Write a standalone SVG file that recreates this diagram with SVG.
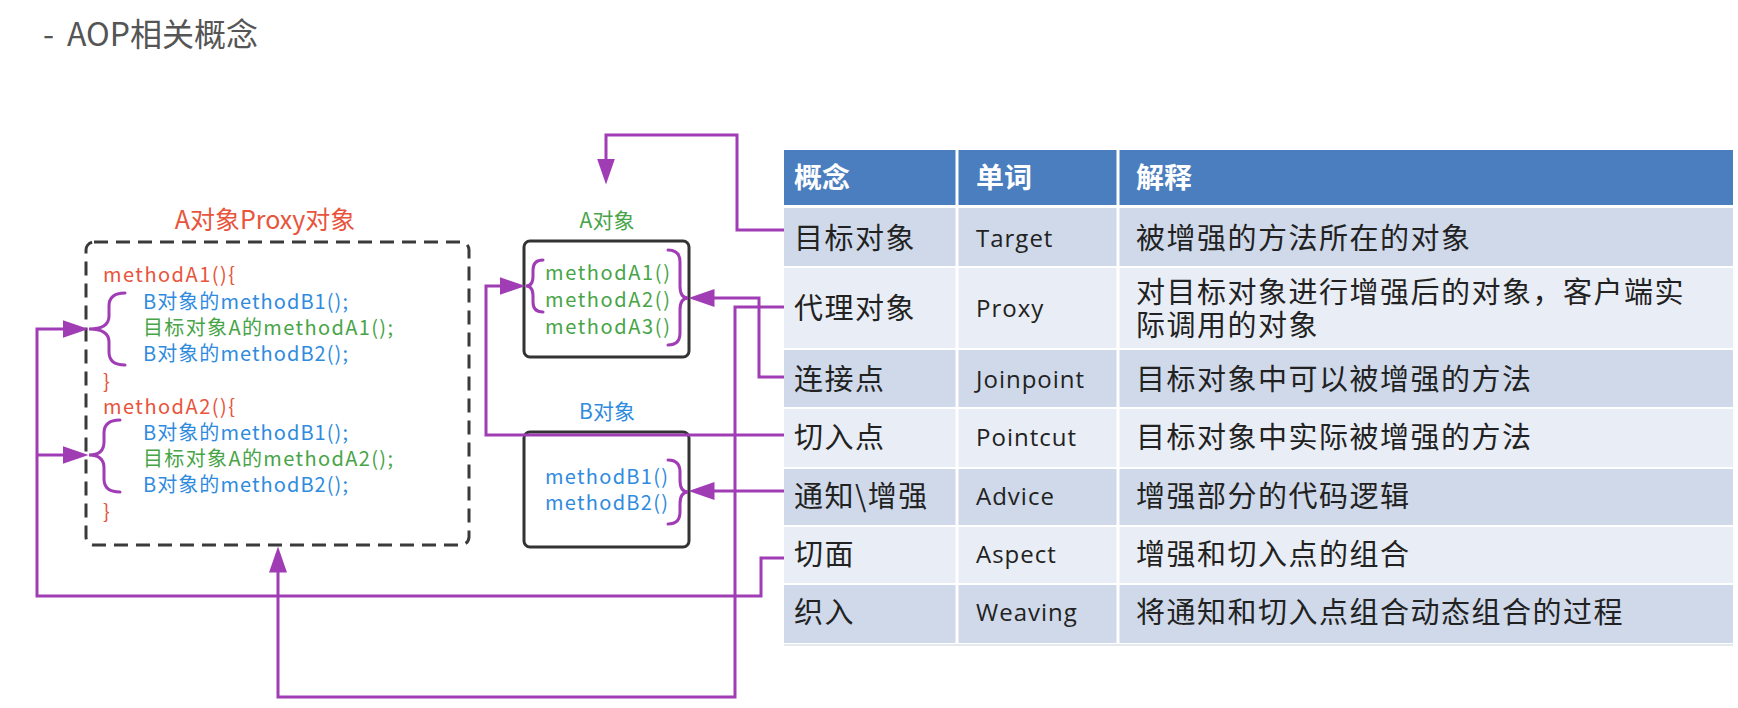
<svg xmlns="http://www.w3.org/2000/svg" width="1738" height="708" viewBox="0 0 1738 708">
<style>
text{font-family:"Noto Sans CJK SC","Noto Sans",sans-serif;}
.title{font-size:32px;fill:#555;}
.code{font-size:20px;}
.red{fill:#E8543C;}
.blue{fill:#2F8BDE;}
.green{fill:#47A447;}
.box{fill:none;stroke:#333;stroke-width:3;}
.dash{fill:none;stroke:#3a3a3a;stroke-width:3;stroke-dasharray:14 8;}
.brace{fill:none;stroke:#A03DB5;stroke-width:3;stroke-linecap:round;}
.conn{fill:none;stroke:#A03DB5;stroke-width:3;}
.hdr{fill:#4A7EBE;}
.dark{fill:#CFD9E9;}
.light{fill:#E9EDF5;}
.sep{stroke:#fff;stroke-width:3;}
.th{font-size:28px;font-weight:bold;fill:#fff;}
.td{font-size:29px;fill:#222;letter-spacing:1.5px;}
.tw{font-family:"Open Sans","Noto Sans",sans-serif;font-size:24px;fill:#222;letter-spacing:1px;}
</style>
<defs>
<marker id="arr" markerUnits="userSpaceOnUse" markerWidth="27" markerHeight="18" refX="0.5" refY="9" orient="auto">
<path d="M0,0 L26,9 L0,18 z" fill="#A03DB5"/>
</marker>
</defs>
<rect width="1738" height="708" fill="#fff"/>

<text class="title" x="43" y="46">-<tspan x="67">AOP相关概念</tspan></text>

<g id="proxy-object">
<text x="265" y="229" font-size="25" text-anchor="middle" class="red">A对象Proxy对象</text>
<rect class="dash" x="86" y="242" width="383" height="303" rx="8"/>
<text class="code red" x="103" y="282" textLength="132" lengthAdjust="spacing">methodA1(){</text>
<text class="code blue" x="143" y="309" textLength="205" lengthAdjust="spacing">B对象的methodB1();</text>
<text class="code green" x="143" y="335" textLength="250" lengthAdjust="spacing">目标对象A的methodA1();</text>
<text class="code blue" x="143" y="361" textLength="205" lengthAdjust="spacing">B对象的methodB2();</text>
<text class="code red" x="103" y="389">}</text>
<text class="code red" x="103" y="414" textLength="132" lengthAdjust="spacing">methodA2(){</text>
<text class="code blue" x="143" y="440" textLength="205" lengthAdjust="spacing">B对象的methodB1();</text>
<text class="code green" x="143" y="466" textLength="250" lengthAdjust="spacing">目标对象A的methodA2();</text>
<text class="code blue" x="143" y="492" textLength="205" lengthAdjust="spacing">B对象的methodB2();</text>
<text class="code red" x="103" y="519">}</text>
<path class="brace" d="M125 293 Q109 293 109 306 L109 316 Q109 329 89 329 Q109 329 109 342 L109 352 Q109 365 125 365"/>
<path class="brace" d="M120 420 Q104 420 104 433 L104 442 Q104 455 89 455 Q104 455 104 468 L104 479 Q104 492 120 492"/>
</g>

<g id="a-object">
<text x="607" y="228" font-size="21" text-anchor="middle" class="green">A对象</text>
<rect class="box" x="524" y="241" width="165" height="116" rx="6"/>
<text class="code green" x="545" y="280" textLength="125" lengthAdjust="spacing">methodA1()</text>
<text class="code green" x="545" y="307" textLength="125" lengthAdjust="spacing">methodA2()</text>
<text class="code green" x="545" y="334" textLength="125" lengthAdjust="spacing">methodA3()</text>
<path class="brace" d="M543 260 Q533 260 533 270 L533 276 Q533 286 526 286 Q533 286 533 296 L533 302 Q533 312 543 312"/>
<path class="brace" d="M668 250 Q680 250 680 262 L680 286 Q680 298 688 298 Q680 298 680 310 L680 333 Q680 345 668 345"/>
</g>

<g id="b-object">
<text x="607" y="419" font-size="21" text-anchor="middle" class="blue">B对象</text>
<rect class="box" x="524" y="432" width="165" height="115" rx="6"/>
<text class="code blue" x="545" y="484" textLength="123" lengthAdjust="spacing">methodB1()</text>
<text class="code blue" x="545" y="510" textLength="123" lengthAdjust="spacing">methodB2()</text>
<path class="brace" d="M668 460 Q680 460 680 472 L680 480 Q680 492 688 492 Q680 492 680 504 L680 512 Q680 524 668 524"/>
</g>

<g id="table">
<rect class="hdr" x="784" y="150" width="949" height="55"/>
<rect class="dark" x="784" y="208" width="949" height="58"/>
<rect class="light" x="784" y="268" width="949" height="80"/>
<rect class="dark" x="784" y="350" width="949" height="57"/>
<rect class="light" x="784" y="409" width="949" height="58"/>
<rect class="dark" x="784" y="469" width="949" height="56"/>
<rect class="light" x="784" y="527" width="949" height="56"/>
<rect class="dark" x="784" y="585" width="949" height="58"/>
<line class="sep" x1="957" y1="150" x2="957" y2="643"/>
<line class="sep" x1="1118" y1="150" x2="1118" y2="643"/>
<line x1="784" y1="645" x2="1733" y2="645" stroke="#e4e8ef" stroke-width="2"/>
<text class="th" x="794" y="188">概念</text>
<text class="th" x="976" y="188">单词</text>
<text class="th" x="1136" y="188">解释</text>
<text class="td" x="794" y="249">目标对象</text>
<text class="tw" x="976" y="247">Target</text>
<text class="td" x="1136" y="249">被增强的方法所在的对象</text>
<text class="td" x="794" y="319">代理对象</text>
<text class="tw" x="976" y="317">Proxy</text>
<text class="td" x="1136" y="303">对目标对象进行增强后的对象，客户端实</text>
<text class="td" x="1136" y="336">际调用的对象</text>
<text class="td" x="794" y="390">连接点</text>
<text class="tw" x="976" y="388">Joinpoint</text>
<text class="td" x="1136" y="390">目标对象中可以被增强的方法</text>
<text class="td" x="794" y="448">切入点</text>
<text class="tw" x="976" y="446">Pointcut</text>
<text class="td" x="1136" y="448">目标对象中实际被增强的方法</text>
<text class="td" x="794" y="507">通知\增强</text>
<text class="tw" x="976" y="505">Advice</text>
<text class="td" x="1136" y="507">增强部分的代码逻辑</text>
<text class="td" x="794" y="565">切面</text>
<text class="tw" x="976" y="563">Aspect</text>
<text class="td" x="1136" y="565">增强和切入点的组合</text>
<text class="td" x="794" y="623">织入</text>
<text class="tw" x="976" y="621">Weaving</text>
<text class="td" x="1136" y="623">将通知和切入点组合动态组合的过程</text>
</g>

<g id="connectors">
<path class="conn" d="M784 230 H737 V135 H606 V159" marker-end="url(#arr)"/>
<path class="conn" d="M784 307 H735 V697 H278 V572" marker-end="url(#arr)"/>
<path class="conn" d="M784 377 H759 V298 H714" marker-end="url(#arr)"/>
<path class="conn" d="M784 435 H486 V286 H500" marker-end="url(#arr)"/>
<path class="conn" d="M784 491 H714" marker-end="url(#arr)"/>
<path class="conn" d="M784 558 H761 V596 H37 V329 H63" marker-end="url(#arr)"/>
<path class="conn" d="M37 455 H63" marker-end="url(#arr)"/>
</g>
</svg>
